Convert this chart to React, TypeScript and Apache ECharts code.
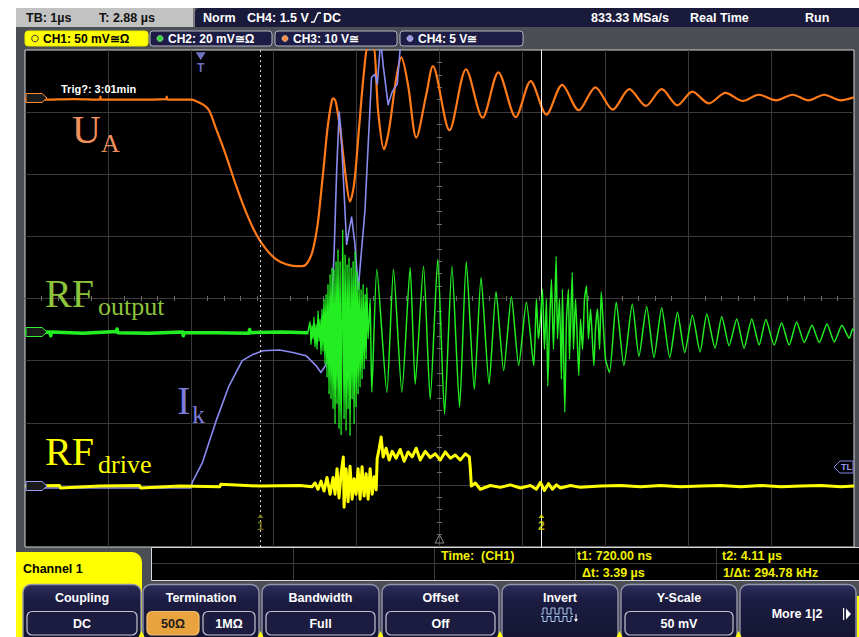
import { useEffect, useRef } from 'react';
import * as echarts from 'echarts';

const uiFont = '"Liberation Sans", Arial, Helvetica, sans-serif';
const serifFont = '"Liberation Serif", "Times New Roman", serif';

// ---------- acquisition / cursor values (time in µs from screen centre, amplitude in divisions) ----------
const triggerPosition = -2.88; // T: 2.88 µs left of centre
const cursorTimes = [0.72, 4.11]; // t1, t2 relative to trigger

// ---------- waveforms ----------
const chUA = [
  [-5.0, 3.2], [-4.8, 3.2], [-4.79, 3.25], [-4.78, 3.2], [-4.4, 3.21], [-4.1, 3.2], [-4.09, 3.25], [-4.08, 3.2],
  [-3.7, 3.2], [-3.3, 3.21], [-3.29, 3.25], [-3.28, 3.2], [-3.0, 3.2], [-2.94, 3.18], [-2.85, 3.12], [-2.78, 3.03],
  [-2.7, 2.75], [-2.58, 2.32], [-2.46, 1.84], [-2.34, 1.41], [-2.21, 1.03], [-2.09, 0.79], [-1.97, 0.63], [-1.85, 0.55],
  [-1.73, 0.52], [-1.65, 0.52], [-1.59, 0.58], [-1.53, 0.77], [-1.47, 1.19], [-1.43, 1.68], [-1.39, 2.21], [-1.35, 2.75],
  [-1.3, 3.18], [-1.28, 3.22], [-1.25, 3.16], [-1.19, 2.64], [-1.13, 1.95], [-1.08, 1.56], [-1.03, 1.84], [-0.97, 2.75],
  [-0.91, 3.66], [-0.86, 4.05], [-0.8, 4.05], [-0.74, 3.01], [-0.67, 2.4], [-0.61, 2.71], [-0.52, 3.56], [-0.46, 3.88],
  [-0.38, 3.44], [-0.28, 2.59], [-0.16, 3.28], [-0.08, 3.74], [0.12, 2.71], [0.32, 3.69], [0.52, 2.91], [0.71, 3.64],
  [0.92, 2.92], [1.1, 3.5], [1.29, 2.96], [1.48, 3.44], [1.68, 3.03], [1.88, 3.4], [2.09, 3.04], [2.29, 3.37],
  [2.49, 3.1], [2.68, 3.37], [2.87, 3.11], [3.05, 3.33], [3.25, 3.14], [3.45, 3.31], [3.66, 3.18], [3.85, 3.28],
  [4.06, 3.19], [4.26, 3.28], [4.45, 3.19], [4.64, 3.28], [4.84, 3.19], [5.0, 3.24],
];

const chIk = [
  [-5.0, -3.05], [-3.0, -3.05], [-2.98, -2.95], [-2.86, -2.64], [-2.7, -1.99], [-2.54, -1.41], [-2.38, -1.0], [-2.25, -0.9],
  [-2.13, -0.84], [-1.93, -0.83], [-1.77, -0.87], [-1.61, -0.92], [-1.49, -1.08], [-1.43, -1.19], [-1.39, -1.11], [-1.34, -1.0],
  [-1.31, -0.49], [-1.27, 0.79], [-1.24, 2.08], [-1.21, 3.0], [-1.19, 2.72], [-1.16, 1.95], [-1.12, 0.87], [-1.09, 1.11],
  [-1.06, 1.31], [-1.02, 0.87], [-0.98, 0.15], [-0.95, 0.63], [-0.9, 1.4], [-0.86, 2.48], [-0.82, 3.56], [-0.78, 3.61],
  [-0.75, 3.45], [-0.72, 3.98], [-0.7, 4.04], [-0.68, 3.76], [-0.62, 3.12], [-0.57, 3.33], [-0.51, 3.45], [-0.47, 4.09],
  [-0.43, 4.5],
];

const chRFoutBaseline = [
  [-5.0, -0.55], [-4.7, -0.54], [-4.69, -0.6], [-4.68, -0.54], [-4.3, -0.56], [-3.9, -0.53], [-3.89, -0.49], [-3.88, -0.55],
  [-3.5, -0.56], [-3.1, -0.54], [-3.09, -0.6], [-3.08, -0.55], [-2.7, -0.55], [-2.3, -0.56], [-2.29, -0.5], [-2.28, -0.55],
  [-1.9, -0.54], [-1.6, -0.55], [-1.586, -0.54],
];

const chRFout = [
  [-1.586, -0.54], [-1.562, -0.37], [-1.55, -0.74], [-1.538, -0.43], [-1.526, -0.65], [-1.514, -0.3], [-1.502, -0.78],
  [-1.489, -0.41], [-1.477, -0.82], [-1.465, -0.2], [-1.453, -0.69], [-1.441, -0.33], [-1.429, -0.9], [-1.417, -0.17],
  [-1.405, -0.85], [-1.393, -0.01], [-1.381, -1.06], [-1.369, 0.07], [-1.357, -1.27], [-1.345, 0.23], [-1.332, -1.54],
  [-1.32, 0.39], [-1.308, -1.62], [-1.296, 0.5], [-1.284, -1.78], [-1.272, 0.47], [-1.26, -2.02], [-1.248, 0.6],
  [-1.236, -1.7], [-1.224, 0.79], [-1.212, -2.1], [-1.199, 0.6], [-1.187, -2.2], [-1.167, 1.11], [-1.151, -1.94],
  [-1.139, 0.71], [-1.127, -2.13], [-1.115, 0.55], [-1.103, -1.78], [-1.091, 0.66], [-1.079, -2.21], [-1.066, 0.5],
  [-1.054, -1.62], [-1.042, 0.6], [-1.03, -2.02], [-1.018, 0.76], [-1.006, -1.75], [-0.994, 0.44], [-0.982, -1.54],
  [-0.97, 0.28], [-0.958, -1.43], [-0.946, 0.15], [-0.934, -1.3], [-0.921, 0.23], [-0.909, -1.14], [-0.897, 0.07],
  [-0.885, -0.98], [-0.877, 0.18], [-0.861, -0.65], [-0.837, -0.01], [-0.817, -1.51], [-0.756, 0.47], [-0.635, -1.51],
  [-0.555, 0.47], [-0.454, -1.51], [-0.354, 0.5], [-0.293, -1.38], [-0.193, 0.52], [-0.112, -1.62], [-0.021, 0.63],
  [0.061, -1.86], [0.15, 0.52], [0.242, -1.75], [0.323, 0.59], [0.42, -1.46], [0.501, 0.34], [0.598, -1.38],
  [0.682, 0.11], [0.774, -1.16], [0.867, 0.03], [0.955, -1.08], [1.048, -0.06], [1.137, -1.08], [1.169, -0.01],
  [1.193, -0.65], [1.218, -0.33], [1.242, 0.15], [1.266, -0.82], [1.29, -0.01], [1.306, -1.41], [1.326, -0.49],
  [1.35, 0.31], [1.375, -0.82], [1.407, 0.68], [1.423, -0.65], [1.447, -0.01], [1.471, -1.3], [1.483, 0.15],
  [1.511, -1.83], [1.532, -0.33], [1.556, 0.15], [1.568, -0.98], [1.601, 0.42], [1.616, -0.82], [1.641, -0.01],
  [1.68, -1.24], [1.701, -0.33], [1.725, -0.82], [1.749, -0.01], [1.773, 0.2], [1.797, -0.65], [1.822, -0.17],
  [1.862, -1.08], [1.882, -0.49], [1.906, -0.17], [1.931, -0.82], [1.951, 0.11], [1.979, -0.49], [2.003, -0.98],
  [2.051, -1.19], [2.132, -0.06], [2.224, -1.08], [2.326, -0.09], [2.406, -0.93], [2.499, -0.13], [2.587, -0.95],
  [2.68, -0.15], [2.777, -0.95], [2.87, -0.22], [2.958, -0.87], [3.051, -0.27], [3.143, -0.86], [3.224, -0.25],
  [3.324, -0.8], [3.405, -0.29], [3.493, -0.76], [3.586, -0.33], [3.674, -0.8], [3.767, -0.33], [3.856, -0.75],
  [3.937, -0.34], [4.037, -0.75], [4.126, -0.39], [4.218, -0.75], [4.308, -0.38], [4.4, -0.71], [4.493, -0.43],
  [4.581, -0.71], [4.674, -0.41], [4.762, -0.7], [4.855, -0.43], [4.943, -0.64], [4.984, -0.49], [5.0, -0.52],
];

const chRFdrive = [
  [-5.0, -3.02], [-4.584, -3.01], [-4.572, -3.05], [-4.1, -3.02], [-3.617, -3.01], [-3.604, -3.05], [-3.133, -3.02],
  [-2.65, -3.03], [-2.638, -2.99], [-2.166, -3.02], [-1.683, -3.01], [-1.538, -3.03], [-1.502, -2.97], [-1.465, -3.07],
  [-1.429, -2.94], [-1.393, -3.1], [-1.357, -2.88], [-1.32, -3.15], [-1.284, -2.88], [-1.26, -3.15], [-1.236, -2.74],
  [-1.212, -3.21], [-1.187, -2.82], [-1.16, -2.55], [-1.151, -3.36], [-1.127, -2.74], [-1.103, -3.27], [-1.079, -2.7],
  [-1.054, -3.23], [-1.03, -2.9], [-1.006, -3.15], [-0.982, -2.74], [-0.958, -3.23], [-0.934, -2.71], [-0.909, -3.18],
  [-0.885, -2.82], [-0.861, -3.23], [-0.837, -2.74], [-0.812, -3.15], [-0.788, -2.87], [-0.764, -3.08], [-0.752, -2.58],
  [-0.728, -2.42], [-0.704, -2.23], [-0.68, -2.55], [-0.644, -2.41], [-0.607, -2.6], [-0.571, -2.46], [-0.523, -2.57],
  [-0.474, -2.43], [-0.426, -2.62], [-0.378, -2.47], [-0.329, -2.55], [-0.281, -2.41], [-0.233, -2.6], [-0.172, -2.46],
  [-0.112, -2.56], [-0.051, -2.5], [0.009, -2.6], [0.07, -2.47], [0.13, -2.57], [0.19, -2.52], [0.251, -2.6],
  [0.311, -2.5], [0.36, -2.55], [0.372, -2.74], [0.384, -3.02], [0.432, -2.97], [0.492, -3.07], [0.613, -3.01],
  [0.734, -3.04], [0.855, -3.0], [0.976, -3.05], [1.097, -3.01], [1.169, -3.07], [1.218, -2.96], [1.266, -3.09],
  [1.314, -2.98], [1.362, -3.07], [1.411, -3.0], [1.459, -3.05], [1.58, -3.01], [1.701, -3.04], [1.943, -3.02],
  [2.184, -3.01], [2.426, -3.03], [2.668, -3.01], [2.91, -3.03], [3.151, -3.02], [3.393, -3.01], [3.635, -3.03],
  [3.877, -3.01], [4.118, -3.03], [4.36, -3.02], [4.602, -3.01], [4.844, -3.03], [5.0, -3.02],
];

// ---------- screen texts ----------
const statusLeft = ['TB: 1µs', 'T: 2.88 µs'];
const statusRight = ['833.33 MSa/s', 'Real Time', 'Run'];
const channelTabs = ['CH1: 50 mV≅Ω', 'CH2: 20 mV≅Ω', 'CH3: 10 V≅', 'CH4: 5 V≅'];
const measureRow1 = ['Time:  (CH1)', 't1: 720.00 ns', 't2: 4.11 µs'];
const measureRow2 = ['Δt: 3.39 µs', '1/Δt: 294.78 kHz'];
const menuTitles = ['Coupling', 'Termination', 'Bandwidth', 'Offset', 'Invert', 'Y-Scale'];

function txt(x: number, y: number, s: string, fill: string, size = 12.5, align = 'left', family = uiFont, weight = 'bold') {
  return {
    type: 'text', x, y, z: 20, silent: true,
    style: { text: s, fill, font: `${weight} ${size}px ${family}`, textAlign: align, textVerticalAlign: 'middle', align, verticalAlign: 'middle' },
  };
}
function rect(x: number, y: number, w: number, h: number, fill: any, stroke: any = null, lw = 1, r: any = 0) {
  return { type: 'rect', z: 20, silent: true, shape: { x, y, width: w, height: h, r }, style: { fill, stroke, lineWidth: lw } };
}
function poly(points: number[][], fill: any, stroke: any = null, lw = 1) {
  return { type: 'polygon', z: 20, silent: true, shape: { points }, style: { fill, stroke, lineWidth: lw } };
}
function pline(points: number[][], stroke: string, lw = 1) {
  return { type: 'polyline', z: 20, silent: true, shape: { points }, style: { fill: null, stroke, lineWidth: lw } };
}

function buildGraphics() {
  const els: any[] = [];
  // white screenshot margins
  els.push(rect(0, 0, 859, 8, '#ffffff'), rect(0, 0, 16, 637, '#ffffff'));
  // status bar
  els.push(rect(16, 8, 177, 19, '#c2c2c2'));
  els.push(rect(193, 8, 2, 19, '#7c7c84'));
  els.push(rect(195, 8, 664, 19, '#1a1a3a', null, 0, [5, 0, 0, 0]));
  els.push(txt(26, 17.5, statusLeft[0], '#111'));
  els.push(txt(99, 17.5, statusLeft[1], '#111'));
  els.push(txt(203, 17.5, 'Norm', '#fff'));
  els.push(txt(247, 17.5, 'CH4: 1.5 V', '#fff'));
  els.push(pline([[311, 22], [314, 22], [318, 13], [321, 13]], '#fff', 1.3));
  els.push(txt(323, 17.5, 'DC', '#fff'));
  els.push(txt(591, 17.5, statusRight[0], '#fff'));
  els.push(txt(690, 17.5, statusRight[1], '#fff'));
  els.push(txt(805, 17.5, statusRight[2], '#fff'));
  // channel tabs
  const tabX = [25, 150, 275, 400];
  const tabW = [123, 122, 122, 123];
  const dots = [null, '#33dd33', '#ff8c3c', '#9999f0'];
  channelTabs.forEach((label, i) => {
    const x = tabX[i];
    if (i === 0) {
      els.push(rect(x, 31, tabW[i], 15, '#ffff00', '#e8e800', 1, 3));
      els.push({ type: 'circle', z: 21, silent: true, shape: { cx: x + 10, cy: 38.5, r: 3.3 }, style: { fill: null, stroke: '#333', lineWidth: 1 } });
      els.push(txt(x + 18, 38.5, label, '#000', 12));
    } else {
      els.push(rect(x, 31, tabW[i], 15, '#1c1c44', '#b4b4c4', 1, 3));
      els.push({ type: 'circle', z: 21, silent: true, shape: { cx: x + 10, cy: 38.5, r: 3 }, style: { fill: dots[i], stroke: '#dddddd', lineWidth: 0.6 } });
      els.push(txt(x + 18, 38.5, label, '#ffffff', 12));
    }
  });
  // in-plot annotations
  els.push(txt(61, 89, 'Trig?: 3:01min', '#ffffff', 11));
  const tag = (c: number, stroke: string) => poly([[26, c - 4.5], [42, c - 4.5], [47, c], [42, c + 4.5], [26, c + 4.5]], '#1a1a1a', stroke, 1);
  els.push(tag(98, '#ff8a30'), tag(332, '#33ee33'), tag(486, '#9a9af0'));
  els.push(poly([[834, 467], [840, 461], [853, 461], [853, 473], [840, 473]], '#000', '#8484e4', 1));
  els.push(txt(846.5, 467, 'TL', '#9a9af0', 9, 'center'));
  els.push(poly([[439.5, 535], [435, 543], [444, 543]], null, '#8a8a8a', 1));
  // signal names
  const labels = [
    { m: 'U', s: 'A', c: '#f0905c', x: 72, y: 129.5, sx: 101, sy: 143.2 },
    { m: 'RF', s: 'output', c: '#8cc43c', x: 45, y: 293.5, sx: 98, sy: 306.2 },
    { m: 'I', s: 'k', c: '#7c7cdc', x: 177, y: 400.5, sx: 192, sy: 414.2 },
    { m: 'RF', s: 'drive', c: '#ffff00', x: 45, y: 451.5, sx: 98, sy: 464.2 },
  ];
  labels.forEach((l) => {
    els.push(txt(l.x, l.y, l.m, l.c, 40, 'left', serifFont, 'normal'));
    els.push(txt(l.sx, l.sy, l.s, l.c, 26, 'left', serifFont, 'normal'));
  });
  // channel menu tab
  els.push(rect(16, 552, 126, 85, '#ffff00', null, 0, [0, 10, 0, 0]));
  els.push(txt(23, 569, 'Channel 1', '#000', 12.5));
  // measurement box
  els.push(rect(151.5, 547.5, 710, 33, '#000', '#d8d8d8', 1));
  els.push(pline([[152, 563.5], [859, 563.5]], '#3a3a3a', 1));
  [293.5, 434.5, 575.5, 716.5].forEach((x) => els.push(pline([[x, 548], [x, 580]], '#3a3a3a', 1)));
  els.push(txt(441, 556, measureRow1[0], '#f0f000', 12.5));
  els.push(txt(577, 556, measureRow1[1], '#f0f000', 12.5));
  els.push(txt(722, 556, measureRow1[2], '#f0f000', 12.5));
  els.push(txt(582, 573, measureRow2[0], '#f0f000', 12.5));
  els.push(txt(723, 573, measureRow2[1], '#f0f000', 12.5));
  // soft-key menu
  const btnX = [23, 143, 262, 382, 502, 621, 740];
  const btnW = [118, 116, 117, 117, 116, 116, 116];
  const grad = { type: 'linear', x: 0, y: 0, x2: 0, y2: 1, colorStops: [{ offset: 0, color: '#2e2e5c' }, { offset: 0.25, color: '#1c1c42' }, { offset: 1, color: '#13132e' }] };
  btnX.forEach((x, i) => {
    els.push(rect(x, 584.5, btnW[i], 62, grad, '#9494ac', 1.4, 8));
    if (i < menuTitles.length) els.push(txt(x + btnW[i] / 2, 598, menuTitles[i], '#ffffff', 12.5, 'center'));
  });
  const sub = (x: number, w: number, label: string, active = false) => {
    els.push(rect(x, 611.5, w, 23.5, active ? '#e8a23e' : '#1c1c40', active ? '#f0c070' : '#c4c4d0', 1.2, 5));
    els.push(txt(x + w / 2, 623.5, label, active ? '#1a1a1a' : '#ffffff', 12.5, 'center'));
  };
  sub(27, 110, 'DC');
  sub(147, 52, '50Ω', true);
  sub(203, 52, '1MΩ');
  sub(266, 109, 'Full');
  sub(386, 109, 'Off');
  sub(625, 108, '50 mV');
  // invert icon
  const iconTop: number[][] = [];
  const iconBot: number[][] = [];
  let px = 541;
  iconTop.push([px, 614]);
  iconBot.push([px, 616.5]);
  for (let k = 0; k < 4; k++) {
    const a = px + 2, b = px + 6, c = px + 8;
    iconTop.push([a, 614], [a, 608], [b, 608], [b, 614], [c, 614]);
    iconBot.push([a, 616.5], [a, 621.5], [b, 621.5], [b, 616.5], [c, 616.5]);
    px = c;
  }
  els.push(pline(iconTop, '#a8c8f0', 1), pline(iconBot, '#a8c8f0', 1));
  els.push(pline([[576, 614], [576, 620]], '#ffffff', 1));
  els.push(poly([[574, 619], [578, 619], [576, 622]], '#ffffff'));
  els.push(txt(797, 614, 'More 1|2', '#ffffff', 12.5, 'center'));
  els.push(rect(843, 608, 1.2, 12, '#ffffff'));
  els.push(poly([[846, 608.5], [851, 614], [846, 619.5]], '#ffffff'));
  // yellow indicators
  els.push(rect(857, 596, 2, 41, '#ffff00'));
  [141.5, 260.5, 380.5, 500, 619.5, 738.5].forEach((x) => els.push(poly([[x - 3, 637], [x, 631], [x + 3, 637]], '#ffff00')));
  return els;
}

export default function App() {
  const ref = useRef<HTMLDivElement>(null);
  useEffect(() => {
    document.body.style.margin = '0';
    const chart = echarts.init(ref.current!, null, { renderer: 'svg' });
    const cursorX = cursorTimes.map((t) => triggerPosition + t);
    const minor = { show: true, splitNumber: 5, length: 2.5, lineStyle: { color: '#6c6c6c', width: 1 } };
    const lineSeries = (name: string, data: number[][], color: string, width: number, z: number, smooth: any = false) => ({
      name, type: 'line', data, xAxisIndex: 0, yAxisIndex: 0, symbol: 'none', showSymbol: false, silent: true, z, smooth,
      lineStyle: { color, width, join: 'round' }, clip: true,
    });
    const option: any = {
      animation: false,
      backgroundColor: '#4b4f55',
      grid: { left: 25, top: 50, width: 829, height: 497, show: true, backgroundColor: '#000000', borderColor: '#d4d4d4', borderWidth: 1, containLabel: false, outerBoundsMode: 'none' },
      xAxis: [
        {
          type: 'value', min: -5, max: 5, interval: 1, position: 'bottom',
          axisLine: { show: true, onZero: true, lineStyle: { color: '#3c3c3c', width: 1 } },
          axisTick: { show: false }, axisLabel: { show: false }, minorTick: minor,
          splitLine: { show: true, showMinLine: false, showMaxLine: false, lineStyle: { color: '#3a3a3a', width: 1 } },
        },
        {
          type: 'value', min: -5, max: 5, interval: 1, position: 'top',
          axisLine: { show: false, onZero: true }, axisTick: { show: false }, axisLabel: { show: false }, minorTick: minor, splitLine: { show: false },
        },
      ],
      yAxis: [
        {
          type: 'value', min: -4, max: 4, interval: 1, position: 'left',
          axisLine: { show: true, onZero: true, lineStyle: { color: '#3c3c3c', width: 1 } },
          axisTick: { show: false }, axisLabel: { show: false }, minorTick: minor,
          splitLine: { show: true, showMinLine: false, showMaxLine: false, lineStyle: { color: '#3a3a3a', width: 1 } },
        },
        {
          type: 'value', min: -4, max: 4, interval: 1, position: 'right',
          axisLine: { show: false, onZero: true }, axisTick: { show: false }, axisLabel: { show: false }, minorTick: minor, splitLine: { show: false },
        },
      ],
      series: [
        lineSeries('U_A', chUA, '#ff7a18', 2.2, 3, 0.3),
        lineSeries('I_k', chIk, '#8a8cf2', 1.6, 4),
        lineSeries('RF_output baseline', chRFoutBaseline, '#22ee22', 3.5, 5),
        lineSeries('RF_output', chRFout, '#22ee22', 1.5, 5, 0.2),
        lineSeries('RF_drive', chRFdrive, '#ffff00', 3, 6),
        {
          name: 'markers', type: 'scatter', xAxisIndex: 0, yAxisIndex: 0, z: 8, silent: true,
          data: [
            { value: [triggerPosition, 3.9], symbol: 'triangle', symbolRotate: 180, symbolSize: [10, 8], itemStyle: { color: '#8c8cf0' },
              label: { show: true, formatter: 'T', position: 'bottom', distance: 2, color: '#8c8cf0', fontSize: 12, fontWeight: 'bold', fontFamily: uiFont } },
            { value: [cursorX[0], -3.5], symbol: 'triangle', symbolSize: [6, 4], itemStyle: { color: '#8c8c1c' },
              label: { show: true, formatter: '1', position: 'bottom', distance: 2, color: '#8c8c1c', fontSize: 12, fontWeight: 'bold', fontFamily: uiFont } },
            { value: [cursorX[1], -3.5], symbol: 'triangle', symbolSize: [6, 4], itemStyle: { color: '#e8e800' },
              label: { show: true, formatter: '2', position: 'bottom', distance: 2, color: '#e8e800', fontSize: 12, fontWeight: 'bold', fontFamily: uiFont } },
          ],
          markLine: {
            silent: true, symbol: ['none', 'none'], label: { show: false }, animation: false,
            data: [
              { xAxis: cursorX[0], lineStyle: { color: '#d8d8d8', type: [2, 3], width: 1 } },
              { xAxis: cursorX[1], lineStyle: { color: '#f2f2f2', type: 'solid', width: 1 } },
            ],
          },
        },
      ],
      graphic: { elements: buildGraphics() },
    };
    chart.setOption(option);
    return () => chart.dispose();
  }, []);
  return <div ref={ref} style={{ width: 859, height: 637, position: 'absolute', left: 0, top: 0 }} />;
}
